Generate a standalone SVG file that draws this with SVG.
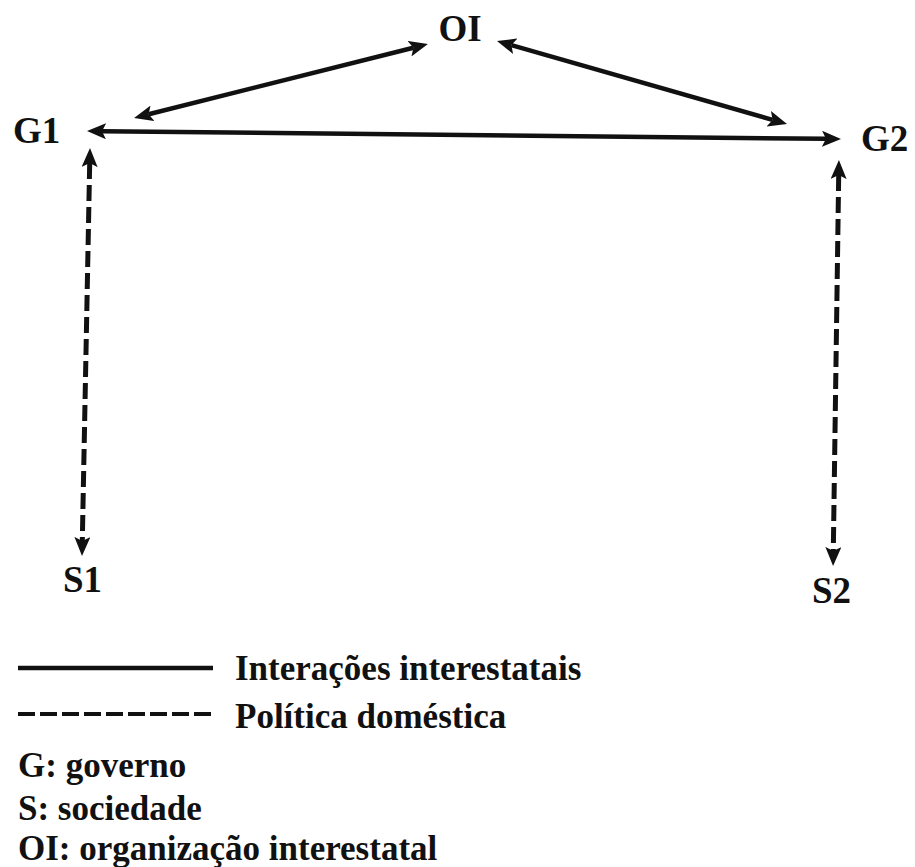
<svg xmlns="http://www.w3.org/2000/svg" width="915" height="867" viewBox="0 0 915 867">
  <style>
    text { font-family: "Liberation Serif", "Times New Roman", serif; font-weight: bold; fill: #111; }
    .node { font-size: 37px; }
    .leg { font-size: 35px; }
    .solid { stroke: #111; stroke-width: 4.5; fill: none; }
    .dash { stroke: #111; stroke-width: 5; fill: none; stroke-dasharray: 16 6; }
  </style>
  <defs>
    <marker id="ah" markerUnits="userSpaceOnUse" markerWidth="20" markerHeight="16" refX="4" refY="8" orient="auto-start-reverse" viewBox="0 0 20 16">
      <path d="M0,0 L19,8 L0,16 L4,8 z" fill="#111"/>
    </marker>
  </defs>
  <rect width="915" height="867" fill="#fff"/>

  <g id="connectors">
    <line class="solid" x1="148.6" y1="114.3" x2="413.4" y2="47.7" marker-start="url(#ah)" marker-end="url(#ah)"/>
    <line class="solid" x1="511.4" y1="45.1" x2="772.6" y2="119.9" marker-start="url(#ah)" marker-end="url(#ah)"/>
    <line class="solid" x1="102" y1="131.2" x2="826" y2="138.8" marker-start="url(#ah)" marker-end="url(#ah)"/>
    <line class="dash" x1="89.7" y1="163" x2="82.3" y2="541" marker-start="url(#ah)" marker-end="url(#ah)"/>
    <line class="dash" x1="838.7" y1="175" x2="833.3" y2="551" marker-start="url(#ah)" marker-end="url(#ah)"/>
  </g>

  <g id="node-OI"><text class="node" x="460" y="41" text-anchor="middle">OI</text></g>
  <g id="node-G1"><text class="node" x="13" y="143">G1</text></g>
  <g id="node-G2"><text class="node" x="861" y="151">G2</text></g>
  <g id="node-S1"><text class="node" x="63" y="592">S1</text></g>
  <g id="node-S2"><text class="node" x="812" y="603">S2</text></g>

  <g id="legend">
    <line class="solid" x1="18" y1="668" x2="213" y2="668"/>
    <text class="leg" x="235" y="680">Interações interestatais</text>
    <line x1="18" y1="714" x2="213" y2="714" stroke="#111" stroke-width="4" stroke-dasharray="17 5"/>
    <text class="leg" x="235" y="728">Política doméstica</text>
    <text class="leg" x="18" y="777">G: governo</text>
    <text class="leg" x="18" y="820">S: sociedade</text>
    <text class="leg" x="18" y="860">OI: organização interestatal</text>
  </g>
</svg>
